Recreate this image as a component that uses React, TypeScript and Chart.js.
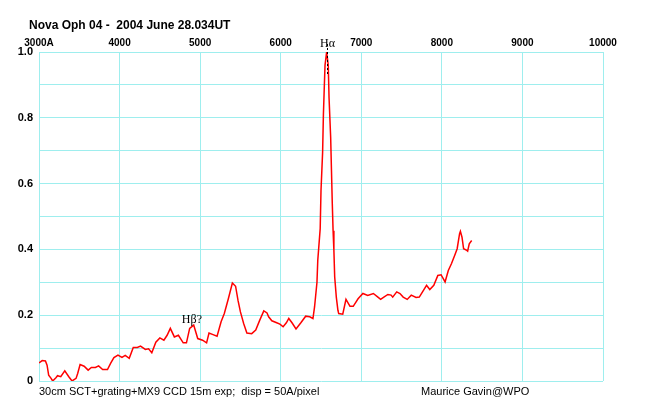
import React, { useEffect, useRef } from "react";
import { Chart, registerables } from "chart.js";

Chart.register(...registerables);

// Wavelength samples (Angstrom) and relative flux
const wavelengths = [
  3000, 3040, 3080, 3100, 3120, 3150, 3170, 3210, 3230, 3270,
  3320, 3370, 3410, 3460, 3480, 3510, 3560, 3610, 3650, 3700,
  3740, 3790, 3850, 3890, 3930, 3980, 4030, 4070, 4120, 4170,
  4220, 4260, 4320, 4360, 4400, 4450, 4500, 4550, 4590, 4630,
  4680, 4730, 4790, 4830, 4870, 4920, 4970, 5030, 5080, 5110,
  5160, 5210, 5260, 5300, 5350, 5400, 5440, 5470, 5500, 5540,
  5580, 5640, 5690, 5740, 5790, 5830, 5850, 5890, 5950, 5990,
  6030, 6070, 6100, 6140, 6190, 6250, 6310, 6360, 6400, 6420,
  6450, 6460, 6490, 6500, 6520, 6530, 6540, 6550, 6570, 6590,
  6600, 6620, 6630, 6640, 6650, 6660, 6670, 6690, 6710, 6720,
  6770, 6810, 6860, 6900, 6960, 7020, 7080, 7150, 7210, 7240,
  7280, 7330, 7370, 7390, 7440, 7480, 7520, 7570, 7620, 7680,
  7720, 7760, 7810, 7850, 7900, 7950, 7990, 8040, 8080, 8120,
  8160, 8190, 8220, 8230, 8250, 8270, 8310, 8320, 8340, 8370,
];

const flux = [
  0.055, 0.062, 0.061, 0.048, 0.018, 0.008, 0.0, 0.01, 0.016, 0.013,
  0.031, 0.013, 0.0, 0.008, 0.023, 0.05, 0.045, 0.033, 0.041, 0.041,
  0.046, 0.035, 0.035, 0.054, 0.071, 0.079, 0.072, 0.078, 0.069, 0.102,
  0.102, 0.106, 0.096, 0.098, 0.086, 0.118, 0.131, 0.124, 0.139, 0.16,
  0.134, 0.139, 0.116, 0.116, 0.16, 0.17, 0.129, 0.124, 0.116, 0.146,
  0.141, 0.136, 0.18, 0.205, 0.25, 0.298, 0.288, 0.245, 0.21, 0.175,
  0.146, 0.144, 0.155, 0.185, 0.213, 0.207, 0.195, 0.183, 0.177, 0.173,
  0.165, 0.177, 0.19, 0.177, 0.158, 0.177, 0.197, 0.195, 0.19, 0.225,
  0.3, 0.367, 0.463, 0.579, 0.695, 0.811, 0.887, 0.96, 1.0, 0.96,
  0.86, 0.74, 0.64, 0.54, 0.457, 0.397, 0.316, 0.255, 0.215, 0.205,
  0.203, 0.248, 0.227, 0.227, 0.25, 0.266, 0.26, 0.266, 0.254, 0.248,
  0.255, 0.263, 0.261, 0.255, 0.271, 0.266, 0.255, 0.248, 0.261, 0.254,
  0.255, 0.271, 0.291, 0.278, 0.291, 0.321, 0.323, 0.301, 0.336, 0.357,
  0.382, 0.402, 0.448, 0.455, 0.437, 0.402, 0.397, 0.395, 0.417, 0.427,
];

const xTickFirstLabel = "3000A";
const titleText = "Nova Oph 04 -  2004 June 28.034UT";
const footerLeft = "30cm SCT+grating+MX9 CCD 15m exp;  disp = 50A/pixel";
const footerRight = "Maurice Gavin@WPO";
const lineLabels = [
  { text: "H\u03b1", wavelength: 6570 },
  { text: "H\u03b2?", wavelength: 4860 },
];

const GRID = "#9eeeee";

const annotations = {
  id: "annotations",
  afterDraw(chart: any) {
    const ctx = chart.ctx as CanvasRenderingContext2D;
    const xs = chart.scales.x;
    ctx.save();
    ctx.fillStyle = "#000";
    ctx.textBaseline = "alphabetic";
    ctx.font = "bold 12px 'Liberation Sans', Arial, sans-serif";
    ctx.textAlign = "left";
    ctx.fillText(titleText, 29, 29);

    ctx.font = "11px 'Liberation Sans', Arial, sans-serif";
    ctx.fillText(footerLeft, 39, 395);
    ctx.fillText(footerRight, 421, 395);

    // H-alpha
    const ha = lineLabels[0];
    const hx = Math.round(xs.getPixelForValue(ha.wavelength)) + 0.5;
    ctx.font = "12px 'Liberation Serif', 'Times New Roman', serif";
    ctx.textAlign = "center";
    ctx.fillText(ha.text, hx, 47);
    ctx.strokeStyle = "#000";
    ctx.lineWidth = 1;
    ctx.setLineDash([2, 2]);
    ctx.beginPath();
    ctx.moveTo(hx, 44);
    ctx.lineTo(hx, 74);
    ctx.stroke();
    ctx.setLineDash([]);

    // H-beta?
    const hb = lineLabels[1];
    const bx = xs.getPixelForValue(hb.wavelength);
    ctx.textAlign = "left";
    ctx.fillText(hb.text, bx - 7, 323);
    ctx.restore();
  },
};

export default function App() {
  const ref = useRef<HTMLCanvasElement | null>(null);
  useEffect(() => {
    if (!ref.current) return;
    const data = wavelengths.map((w, i) => ({ x: w, y: flux[i] }));
    const chart = new Chart(ref.current, {
      type: "line",
      data: {
        datasets: [
          {
            data,
            borderColor: "#ff0000",
            borderWidth: 1.5,
            pointRadius: 0,
            tension: 0,
            fill: false,
          },
        ],
      },
      options: {
        responsive: false,
        animation: false,
        devicePixelRatio: 1,
        layout: { padding: { left: 0, right: 57, top: 0, bottom: 18 } },
        plugins: {
          legend: { display: false },
          tooltip: { enabled: false },
          title: { display: false },
        },
        scales: {
          x: {
            type: "linear",
            position: "top",
            min: 3000,
            max: 10000,
            afterFit: (s: any) => {
              s.height = 52;
            },
            border: { color: GRID },
            grid: { color: GRID, drawTicks: false },
            ticks: {
              stepSize: 1000,
              autoSkip: false,
              maxRotation: 0,
              padding: 3,
              color: "#000",
              font: { family: "'Liberation Sans', Arial, sans-serif", size: 10, weight: "bold" },
              callback: (v: any) => (Number(v) === 3000 ? xTickFirstLabel : String(v)),
            },
          },
          y: {
            type: "linear",
            min: 0,
            max: 1,
            afterFit: (s: any) => {
              s.width = 39;
            },
            border: { color: GRID },
            grid: { color: GRID, drawTicks: false },
            ticks: {
              stepSize: 0.1,
              autoSkip: false,
              padding: 6,
              color: "#000",
              font: { family: "'Liberation Sans', Arial, sans-serif", size: 11, weight: "bold" },
              callback: (v: any) => {
                const r = Math.round(Number(v) * 10);
                if (r % 2 !== 0) return "";
                return r === 0 ? "0" : (r / 10).toFixed(1);
              },
            },
          },
        },
      },
      plugins: [annotations],
    });
    return () => chart.destroy();
  }, []);
  return (
    <div style={{ position: "absolute", left: 0, top: 0, width: 660, height: 399, background: "#fff" }}>
      <canvas ref={ref} width={660} height={399} style={{ display: "block" }} />
    </div>
  );
}
